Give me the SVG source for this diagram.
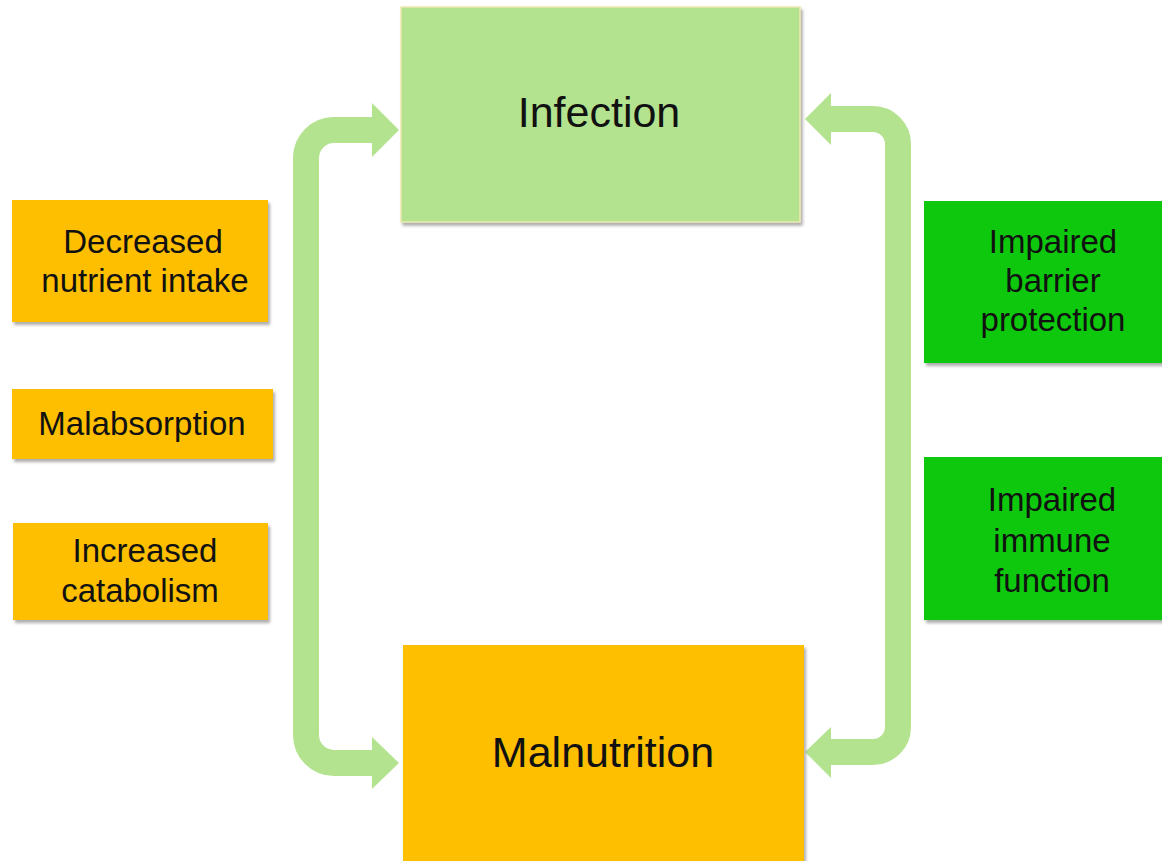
<svg xmlns="http://www.w3.org/2000/svg" width="1162" height="861" viewBox="0 0 1162 861">
<defs>
<style>
.t{font-family:"Liberation Sans",Arial,sans-serif;fill:#111;text-anchor:middle}
.big{font-size:43px}
.sm{font-size:33px}
.orange{fill:#FDBF00}
.lgreen{fill:#B3E38E;stroke:#ECE9B0;stroke-width:1.5}
.green{fill:#0BC80B}
.conn{fill:none;stroke:#B3E38E;stroke-width:26}
.head{fill:#B3E38E}
</style>
<filter id="sh" x="-5%" y="-5%" width="115%" height="115%">
<feDropShadow dx="2" dy="3" stdDeviation="1.5" flood-color="#777" flood-opacity="0.6"/>
</filter>
</defs>
<g id="connectors">
<path class="conn" d="M 374 130 H 334 A 28 28 0 0 0 306 158 V 735 A 28 28 0 0 0 334 763 H 374"/>
<polygon class="head" points="372,103 399,130 372,157"/>
<polygon class="head" points="372,737 399,763 372,789"/>
<path class="conn" d="M 829 119 H 873 A 25 25 0 0 1 898 144 V 727 A 25 25 0 0 1 873 752 H 829"/>
<polygon class="head" points="831,93 805,119 831,145"/>
<polygon class="head" points="831,727 805,752 831,778"/>
</g>
<g id="infection">
<rect class="lgreen" x="401" y="7" width="399" height="215" filter="url(#sh)"/>
<text class="t big" x="599" y="127">Infection</text>
</g>
<g id="malnutrition">
<rect class="orange" x="403" y="645" width="401" height="220" filter="url(#sh)"/>
<text class="t big" x="603" y="767">Malnutrition</text>
</g>
<g id="decreased">
<rect class="orange" x="12" y="200" width="256" height="122" filter="url(#sh)"/>
<text class="t sm" x="143" y="253">Decreased</text>
<text class="t sm" x="145" y="292">nutrient intake</text>
</g>
<g id="malabsorption">
<rect class="orange" x="12" y="389" width="261" height="70" filter="url(#sh)"/>
<text class="t sm" x="142" y="435">Malabsorption</text>
</g>
<g id="catabolism">
<rect class="orange" x="13" y="523" width="255" height="97" filter="url(#sh)"/>
<text class="t sm" x="145" y="562">Increased</text>
<text class="t sm" x="140" y="602">catabolism</text>
</g>
<g id="barrier">
<rect class="green" x="924" y="201" width="245" height="162" filter="url(#sh)"/>
<text class="t sm" x="1053" y="253">Impaired</text>
<text class="t sm" x="1053" y="292">barrier</text>
<text class="t sm" x="1053" y="331">protection</text>
</g>
<g id="immune">
<rect class="green" x="924" y="457" width="245" height="163" filter="url(#sh)"/>
<text class="t sm" x="1052" y="511">Impaired</text>
<text class="t sm" x="1052" y="552">immune</text>
<text class="t sm" x="1052" y="592">function</text>
</g>
</svg>
